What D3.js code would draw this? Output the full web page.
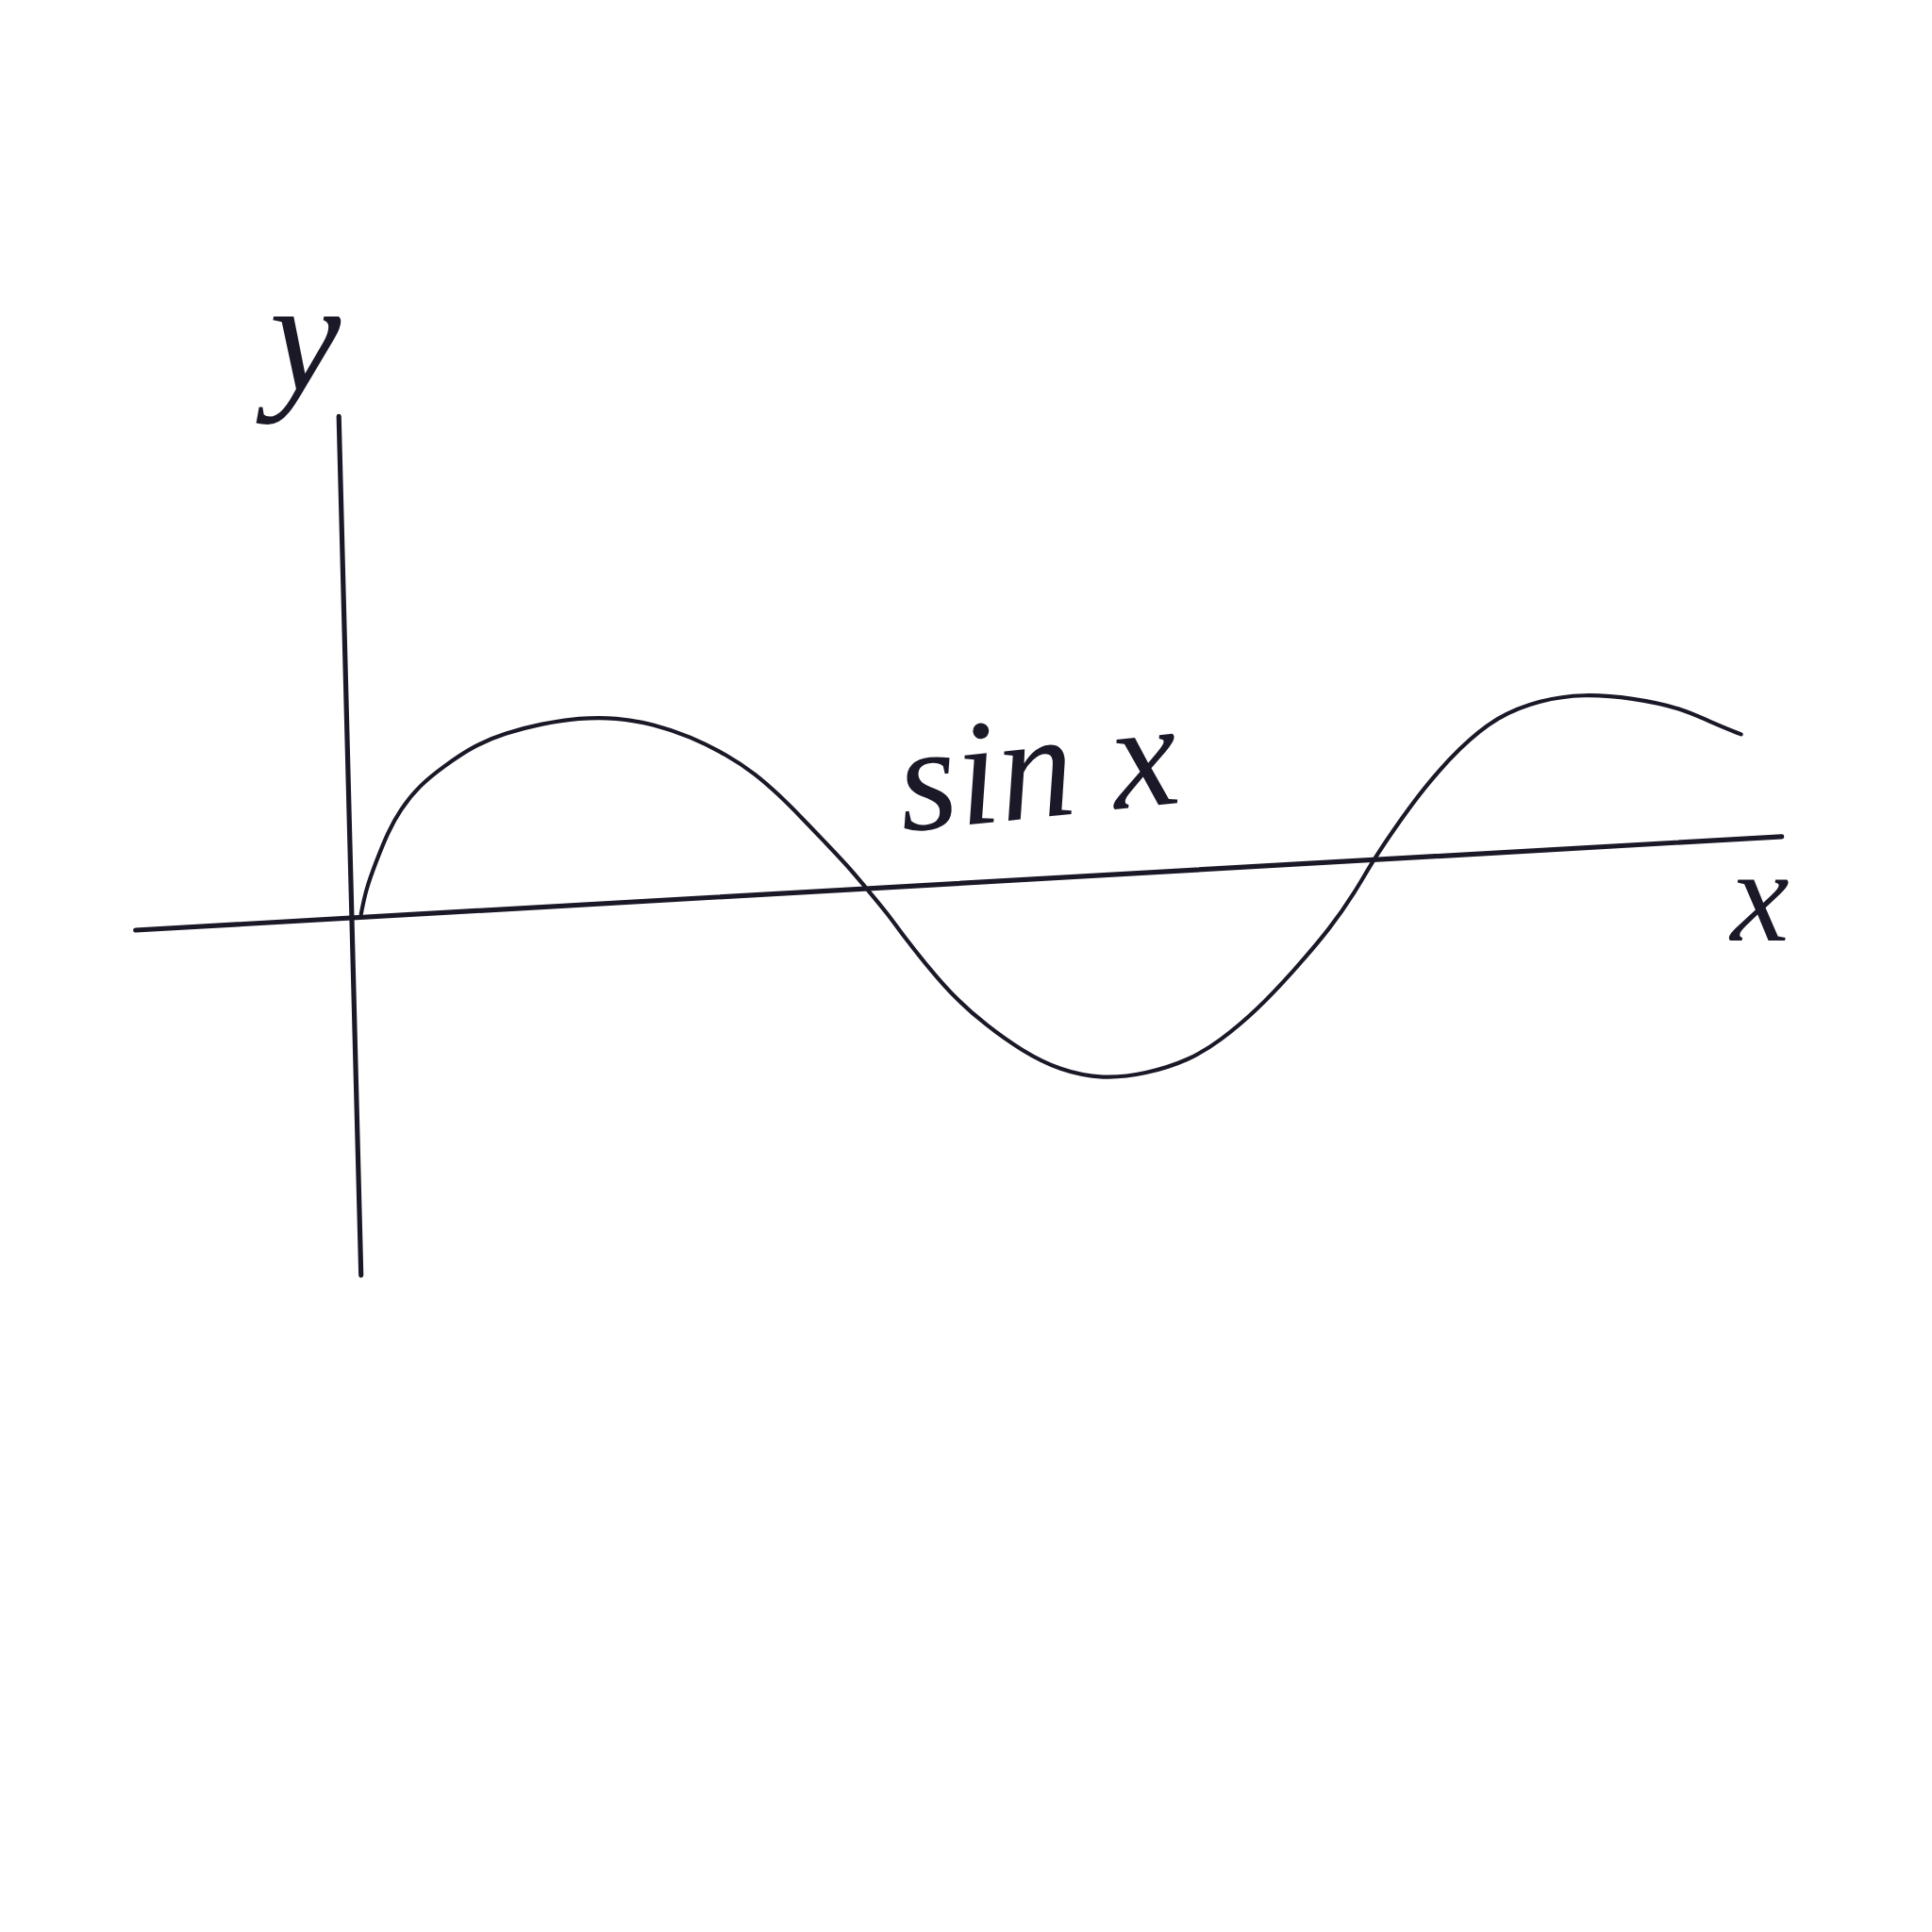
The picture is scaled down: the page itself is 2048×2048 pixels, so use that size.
<!DOCTYPE html>
<html>
<head>
<meta charset="utf-8">
<script src="https://cdn.jsdelivr.net/npm/d3@7"></script>
<style>
  html, body { margin: 0; padding: 0; background: #ffffff; }
  svg { display: block; }
</style>
</head>
<body>
<script>
// ---- data (x in radian-like units, y in amplitude units) ----
const curveX = [0.045, 0.075, 0.136, 0.212, 0.288, 0.402, 0.555, 0.745, 0.935, 1.163, 1.391, 1.620,
  1.848, 2.076, 2.304, 2.479, 2.624, 2.768, 2.913, 3.057, 3.164, 3.293, 3.407, 3.559, 3.711, 3.902, 4.130,
  4.358, 4.624, 4.890, 5.157, 5.347, 5.575, 5.803, 6.032, 6.184, 6.283, 6.412, 6.602, 6.830, 7.058,
  7.325, 7.591, 7.895, 8.199, 8.390, 8.565];
const curveY = [0.020, 0.150, 0.294, 0.457, 0.575, 0.699, 0.803, 0.914, 0.980, 1.030, 1.060, 1.062,
  1.028, 0.962, 0.864, 0.764, 0.653, 0.529, 0.398, 0.268, 0.157, 0.026, -0.111, -0.274, -0.424, -0.568, -0.708,
  -0.808, -0.855, -0.828, -0.755, -0.653, -0.490, -0.281, -0.052, 0.140, 0.290, 0.457, 0.686, 0.905, 1.068,
  1.155, 1.188, 1.166, 1.112, 1.032, 0.973];

// hand-drawn axis strokes: [x0, y0, x1, y1] endpoints in data units
const xAxisEnds = [-1.347, -0.065, 8.816, 0.431];
const yAxisEnds = [-0.092, 2.658, 0.045, -1.894];

// labels
const labelText = ["y", "x", "sin x"];
const labelX = [-0.52, 8.50, 3.39];
const labelY = [2.80, -0.12, 0.457];

// ---- drawing ----
const W = 2048, H = 2048;
const ink = "#1b1928";

const xScale = d3.scaleLinear().domain([0, 10]).range([375, 375 + 1717]);
const yScale = d3.scaleLinear().domain([-1, 1]).range([1173, 773]);

const svg = d3.select("body").append("svg").attr("width", W).attr("height", H);
svg.append("rect").attr("width", W).attr("height", H).attr("fill", "#ffffff");

const axes = [xAxisEnds, yAxisEnds];
svg.selectAll("line.axis").data(axes).join("line")
  .attr("class", "axis")
  .attr("x1", d => xScale(d[0])).attr("y1", d => yScale(d[1]))
  .attr("x2", d => xScale(d[2])).attr("y2", d => yScale(d[3]))
  .attr("stroke", ink).attr("stroke-width", 5.2).attr("stroke-linecap", "round");

const pts = curveX.map((x, i) => [x, curveY[i]]);
const line = d3.line()
  .x(d => xScale(d[0])).y(d => yScale(d[1]))
  .curve(d3.curveBasis);
svg.append("path").datum(pts)
  .attr("d", line)
  .attr("fill", "none").attr("stroke", ink).attr("stroke-width", 4.2)
  .attr("stroke-linecap", "round").attr("stroke-linejoin", "round");

const fontSizes = [170, 140, 160];
const rotations = [0, 0, -6];
const spacing = [0, 0, 0];
labelText.forEach((t, i) => {
  const px = xScale(labelX[i]), py = yScale(labelY[i]);
  svg.append("text")
    .attr("x", px).attr("y", py)
    .attr("transform", `rotate(${rotations[i]},${px},${py})`)
    .attr("font-family", "'Liberation Serif', 'DejaVu Serif', serif")
    .attr("font-style", "italic")
    .attr("font-weight", 400)
    .attr("font-size", fontSizes[i])
    .attr("letter-spacing", spacing[i])
    .attr("fill", ink)
    .text(t);
});
</script>
</body>
</html>
